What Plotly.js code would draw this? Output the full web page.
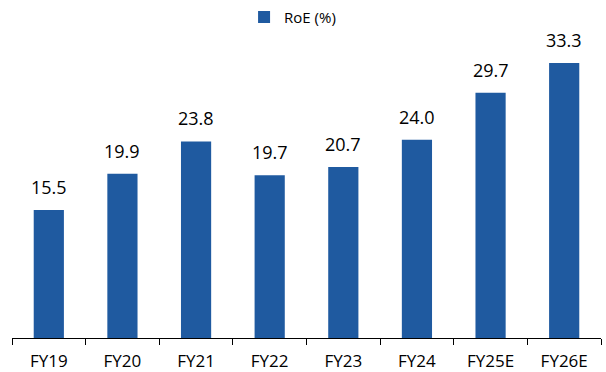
<!DOCTYPE html>
<html><head><meta charset="utf-8">
<script src="https://cdn.plot.ly/plotly-3.0.1.min.js"></script>
<style>html,body{margin:0;padding:0;background:#fff}#c{width:606px;height:372px}</style>
</head><body><div id="c"></div>
<script>
var categories = ["FY19","FY20","FY21","FY22","FY23","FY24","FY25E","FY26E"];
var roe = [15.5, 19.9, 23.8, 19.7, 20.7, 24.0, 29.7, 33.3];
var seriesName = "RoE (%)";

var labels = categories.map(function(c, i){
  return {x: c, y: roe[i], xref: "x", yref: "y", text: roe[i].toFixed(1),
          showarrow: false, yanchor: "bottom", yshift: 9,
          font: {family: "Open Sans, sans-serif", size: 18, color: "#000"}};
});

Plotly.newPlot("c", [{
  type: "bar",
  x: categories,
  y: roe,
  name: seriesName,
  marker: {color: "#1f5aa0"},
  width: 0.41,
  showlegend: true
}], {
  width: 606, height: 372,
  margin: {l: 12, r: 5, t: 49, b: 34, autoexpand: false},
  paper_bgcolor: "#fff", plot_bgcolor: "#fff",
  font: {family: "Open Sans, sans-serif", color: "#000"},
  showlegend: true,
  annotations: labels,
  legend: {orientation: "h", x: 0.394, xanchor: "left", y: 1.11, yanchor: "middle",
           font: {size: 15, color: "#000"}, itemwidth: 30},
  xaxis: {type: "category", showline: true, linecolor: "#000", linewidth: 1,
          ticks: "outside", tickson: "boundaries", ticklen: 6, tickcolor: "#000",
          ticklabelstandoff: 8,
          tickfont: {size: 17, color: "#000"}, showgrid: false, zeroline: false},
  yaxis: {range: [0, 35], visible: false, showgrid: false, zeroline: false},
  bargap: 0.59
}, {staticPlot: true});
</script></body></html>
